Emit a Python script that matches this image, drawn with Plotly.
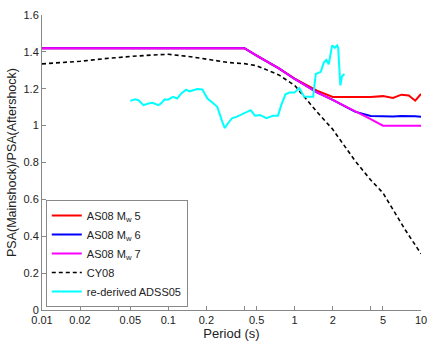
import plotly.graph_objects as go

# ---- data ----
as08_periods = [0.01, 0.02, 0.03, 0.05, 0.075, 0.1, 0.15, 0.2, 0.3, 0.4, 0.5, 0.75, 1.0, 1.5, 2.0, 3.0, 4.0, 5.0, 6.0, 7.0, 8.0, 9.0, 10.0]
as08_m5 = [1.42, 1.42, 1.42, 1.416, 1.416, 1.416, 1.418, 1.42, 1.42, 1.42, 1.38, 1.31, 1.255, 1.19, 1.155, 1.155, 1.155, 1.16, 1.15, 1.168, 1.163, 1.135, 1.172]
as08_m6 = [1.42, 1.42, 1.418, 1.416, 1.418, 1.42, 1.42, 1.42, 1.42, 1.42, 1.38, 1.31, 1.253, 1.18, 1.14, 1.076, 1.052, 1.05, 1.05, 1.052, 1.053, 1.051, 1.048]
as08_m7 = [1.42, 1.42, 1.42, 1.42, 1.42, 1.42, 1.42, 1.42, 1.42, 1.42, 1.38, 1.31, 1.253, 1.18, 1.14, 1.076, 1.035, 1.0, 1.0, 1.0, 1.0, 1.0, 1.0]

cy08_periods = [0.01, 0.02, 0.03, 0.04, 0.05, 0.075, 0.1, 0.15, 0.2, 0.25, 0.3, 0.4, 0.5, 0.75, 1.0, 1.5, 2.0, 3.0, 4.0, 5.0, 7.5, 10.0]
cy08 = [1.335, 1.349, 1.362, 1.370, 1.375, 1.383, 1.387, 1.374, 1.361, 1.350, 1.342, 1.336, 1.325, 1.275, 1.218, 1.075, 0.98, 0.81, 0.705, 0.635, 0.435, 0.305]

adss_periods = [0.050, 0.0547, 0.058, 0.0635, 0.0694, 0.075, 0.0831, 0.0866, 0.0937, 0.0995, 0.109, 0.1175,
                0.126, 0.138, 0.147, 0.161, 0.170, 0.186, 0.204, 0.223, 0.244, 0.267, 0.280, 0.297, 0.319,
                0.349, 0.382, 0.418, 0.449, 0.485, 0.531, 0.598, 0.675, 0.738, 0.783, 0.846, 0.909, 0.995,
                1.089, 1.19, 1.30, 1.40, 1.47, 1.61, 1.70, 1.78, 1.86, 1.98, 2.08, 2.17, 2.21, 2.30, 2.37, 2.48]
adss = [1.134, 1.143, 1.138, 1.111, 1.12, 1.124, 1.111, 1.118, 1.143, 1.141, 1.156, 1.147,
        1.173, 1.195, 1.186, 1.196, 1.198, 1.196, 1.147, 1.125, 1.102, 1.022, 0.987, 1.013, 1.04,
        1.049, 1.061, 1.076, 1.084, 1.054, 1.058, 1.04, 1.054, 1.054, 1.111, 1.17, 1.179, 1.179,
        1.204, 1.156, 1.156, 1.156, 1.28, 1.292, 1.342, 1.356, 1.333, 1.435, 1.422, 1.435, 1.422, 1.218, 1.268, 1.28]

x_ticks = [0.01, 0.02, 0.05, 0.1, 0.2, 0.5, 1, 2, 5, 10]
x_labels = ["0.01", "0.02", "0.05", "0.1", "0.2", "0.5", "1", "2", "5", "10"]
x_minor_ticks = [0.04, 0.4, 4]

font = "Liberation Sans, Arial, sans-serif"

fig = go.Figure()
fig.add_trace(go.Scatter(x=as08_periods, y=as08_m5, mode="lines", name="AS08 M<sub>w</sub> 5",
                         line=dict(color="#ff0000", width=2)))
fig.add_trace(go.Scatter(x=as08_periods, y=as08_m6, mode="lines", name="AS08 M<sub>w</sub> 6",
                         line=dict(color="#0000ff", width=2)))
fig.add_trace(go.Scatter(x=as08_periods, y=as08_m7, mode="lines", name="AS08 M<sub>w</sub> 7",
                         line=dict(color="#ff00ff", width=2)))
fig.add_trace(go.Scatter(x=cy08_periods, y=cy08, mode="lines", name="CY08",
                         line=dict(color="#000000", width=1.6, dash="4px,3px")))
fig.add_trace(go.Scatter(x=adss_periods, y=adss, mode="lines", name="re-derived ADSS05",
                         line=dict(color="#00ffff", width=2)))

fig.update_layout(
    width=433, height=343,
    margin=dict(l=42, r=6, t=15, b=28),
    paper_bgcolor="white", plot_bgcolor="white",
    font=dict(family=font, size=11, color="#222222"),
    showlegend=True,
    legend=dict(x=0.01, y=0.01, xanchor="left", yanchor="bottom",
                bgcolor="white", bordercolor="#888888", borderwidth=1,
                font=dict(size=11, color="#222222"), itemwidth=30,
                tracegroupgap=0, traceorder="normal"),
    xaxis=dict(type="log", range=[-2, 1], tickvals=x_ticks, ticktext=x_labels,
               ticks="inside", ticklen=4, tickcolor="#888888", ticklabeloverflow="allow",
               minor=dict(tickvals=x_minor_ticks, ticks="inside", ticklen=4, tickcolor="#888888", showgrid=False),
               showline=True, linecolor="#888888", linewidth=1, mirror=False,
               showgrid=False, zeroline=False,
               title=dict(text="Period (s)", font=dict(size=13), standoff=2)),
    yaxis=dict(range=[0, 1.6], dtick=0.2, tick0=0,
               ticks="inside", ticklen=4, tickcolor="#888888",
               showline=True, linecolor="#888888", linewidth=1, mirror=False,
               showgrid=False, zeroline=False,
               title=dict(text="PSA(Mainshock)/PSA(Aftershock)", font=dict(size=12.5), standoff=4)),
)

fig.write_html("out.html", config={"displayModeBar": False},
               post_script="document.body.style.margin='0';document.body.style.overflow='hidden';")
